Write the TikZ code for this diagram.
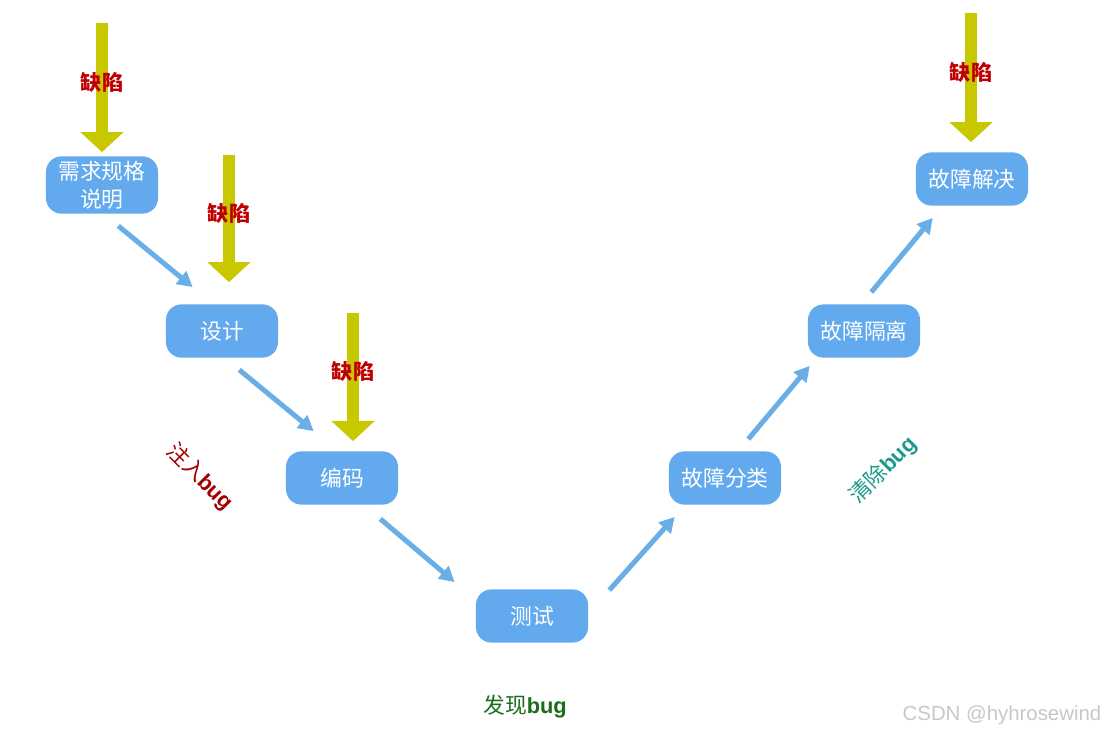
\documentclass[tikz,border=0pt]{standalone}
\usepackage{fontspec}
\setmainfont{Liberation Sans}
\newfontfamily\cjk{Noto Sans CJK SC}
\newfontfamily\latin{Liberation Sans}
\usetikzlibrary{arrows.meta,calc}

\definecolor{boxblue}{HTML}{62A9EE}
\definecolor{flowblue}{HTML}{6AAEE8}
\definecolor{defectyellow}{HTML}{C8C800}
\definecolor{defectred}{HTML}{C00000}
\definecolor{injectred}{HTML}{A00000}
\definecolor{cleanteal}{HTML}{1A9A8A}
\definecolor{findgreen}{HTML}{1A6E1A}

\begin{document}
\begin{tikzpicture}[
            x=0.025cm, y=-0.025cm,
            stage/.style={ fill=boxblue, rounded corners=11pt, text=white, align=center,
                           minimum width=2.8cm, minimum height=1.33cm, inner sep=1pt,
                           font=\cjk\fontsize{15.5}{19}\selectfont },
            flow/.style={ draw=flowblue, line width=0.125cm, -{Triangle[length=0.38cm,width=0.4cm]} },
            defect/.style={ draw=defectyellow, line width=0.3cm, -{Triangle[length=0.5cm,width=1.05cm]} },
            defectlabel/.style={ text=defectred, font=\cjk\bfseries\fontsize{15}{18}\selectfont, pos=0.46 },
            phase/.style={ font=\cjk\fontsize{15.5}{18}\selectfont }
        ]
        \useasboundingbox (0,0) rectangle (1107,735);

        % left side: bugs go in
        \node[stage, minimum height=1.43cm] (req) at (102,185) {需求规格\\[1pt]说明};
        \node[stage] (design) at (222,331) {设计};
        \node[stage] (code)   at (342,478) {编码};
        \node[stage] (test)   at (532,616) {测试};
        % right side: bugs come out
        \node[stage] (sort)    at (725,478) {故障分类};
        \node[stage] (isolate) at (864,331) {故障隔离};
        \node[stage] (fix)     at (972,179) {故障解决};

        \draw[flow] ($(req.south east)+(-40,12)$) -- ($(design.north west)+(27,-17)$);
        \draw[flow] ($(design.south east)+(-39,12)$) -- ($(code.north west)+(28,-20)$);
        \draw[flow] ($(code.south east)+(-18,14)$) -- ($(test.north west)+(-21,-7)$);
        \draw[flow] ($(test.north east)+(21,1)$) -- ($(sort.south west)+(6,12)$);
        \draw[flow] ($(sort.north east)+(-33,-12)$) -- ($(isolate.south west)+(2,8)$);
        \draw[flow] ($(isolate.north east)+(-49,-12)$) -- ($(fix.south west)+(17,12)$);

        % defects
        \coordinate (d1) at (102,23);
        \coordinate (d2) at (229,155);
        \coordinate (d3) at (353,313);
        \coordinate (d4) at (971,13);
        \draw[defect] (d1) -- ($(d1 |- req.north)+(0,-4)$)     node[defectlabel] {缺陷};
        \draw[defect] (d2) -- ($(d2 |- design.north)+(0,-22)$) node[defectlabel] {缺陷};
        \draw[defect] (d3) -- ($(d3 |- code.north)+(0,-10)$)   node[defectlabel] {缺陷};
        \draw[defect] (d4) -- ($(d4 |- fix.north)+(0,-10)$)    node[defectlabel] {缺陷};

        \node[phase, text=injectred, rotate=-45] (inject) at (200,477) {注入{\latin\bfseries bug}};
        \node[phase, text=findgreen] (find) at (525,707) {发现{\latin\bfseries bug}};
        \node[phase, text=cleanteal, rotate=45] (clean) at (883,470) {清除{\latin\bfseries bug}};

        \node[text=black!22, font=\latin\fontsize{14.5}{17}\selectfont] (mark) at (1002,715) {CSDN @hyhrosewind};
    \end{tikzpicture}
\end{document}
